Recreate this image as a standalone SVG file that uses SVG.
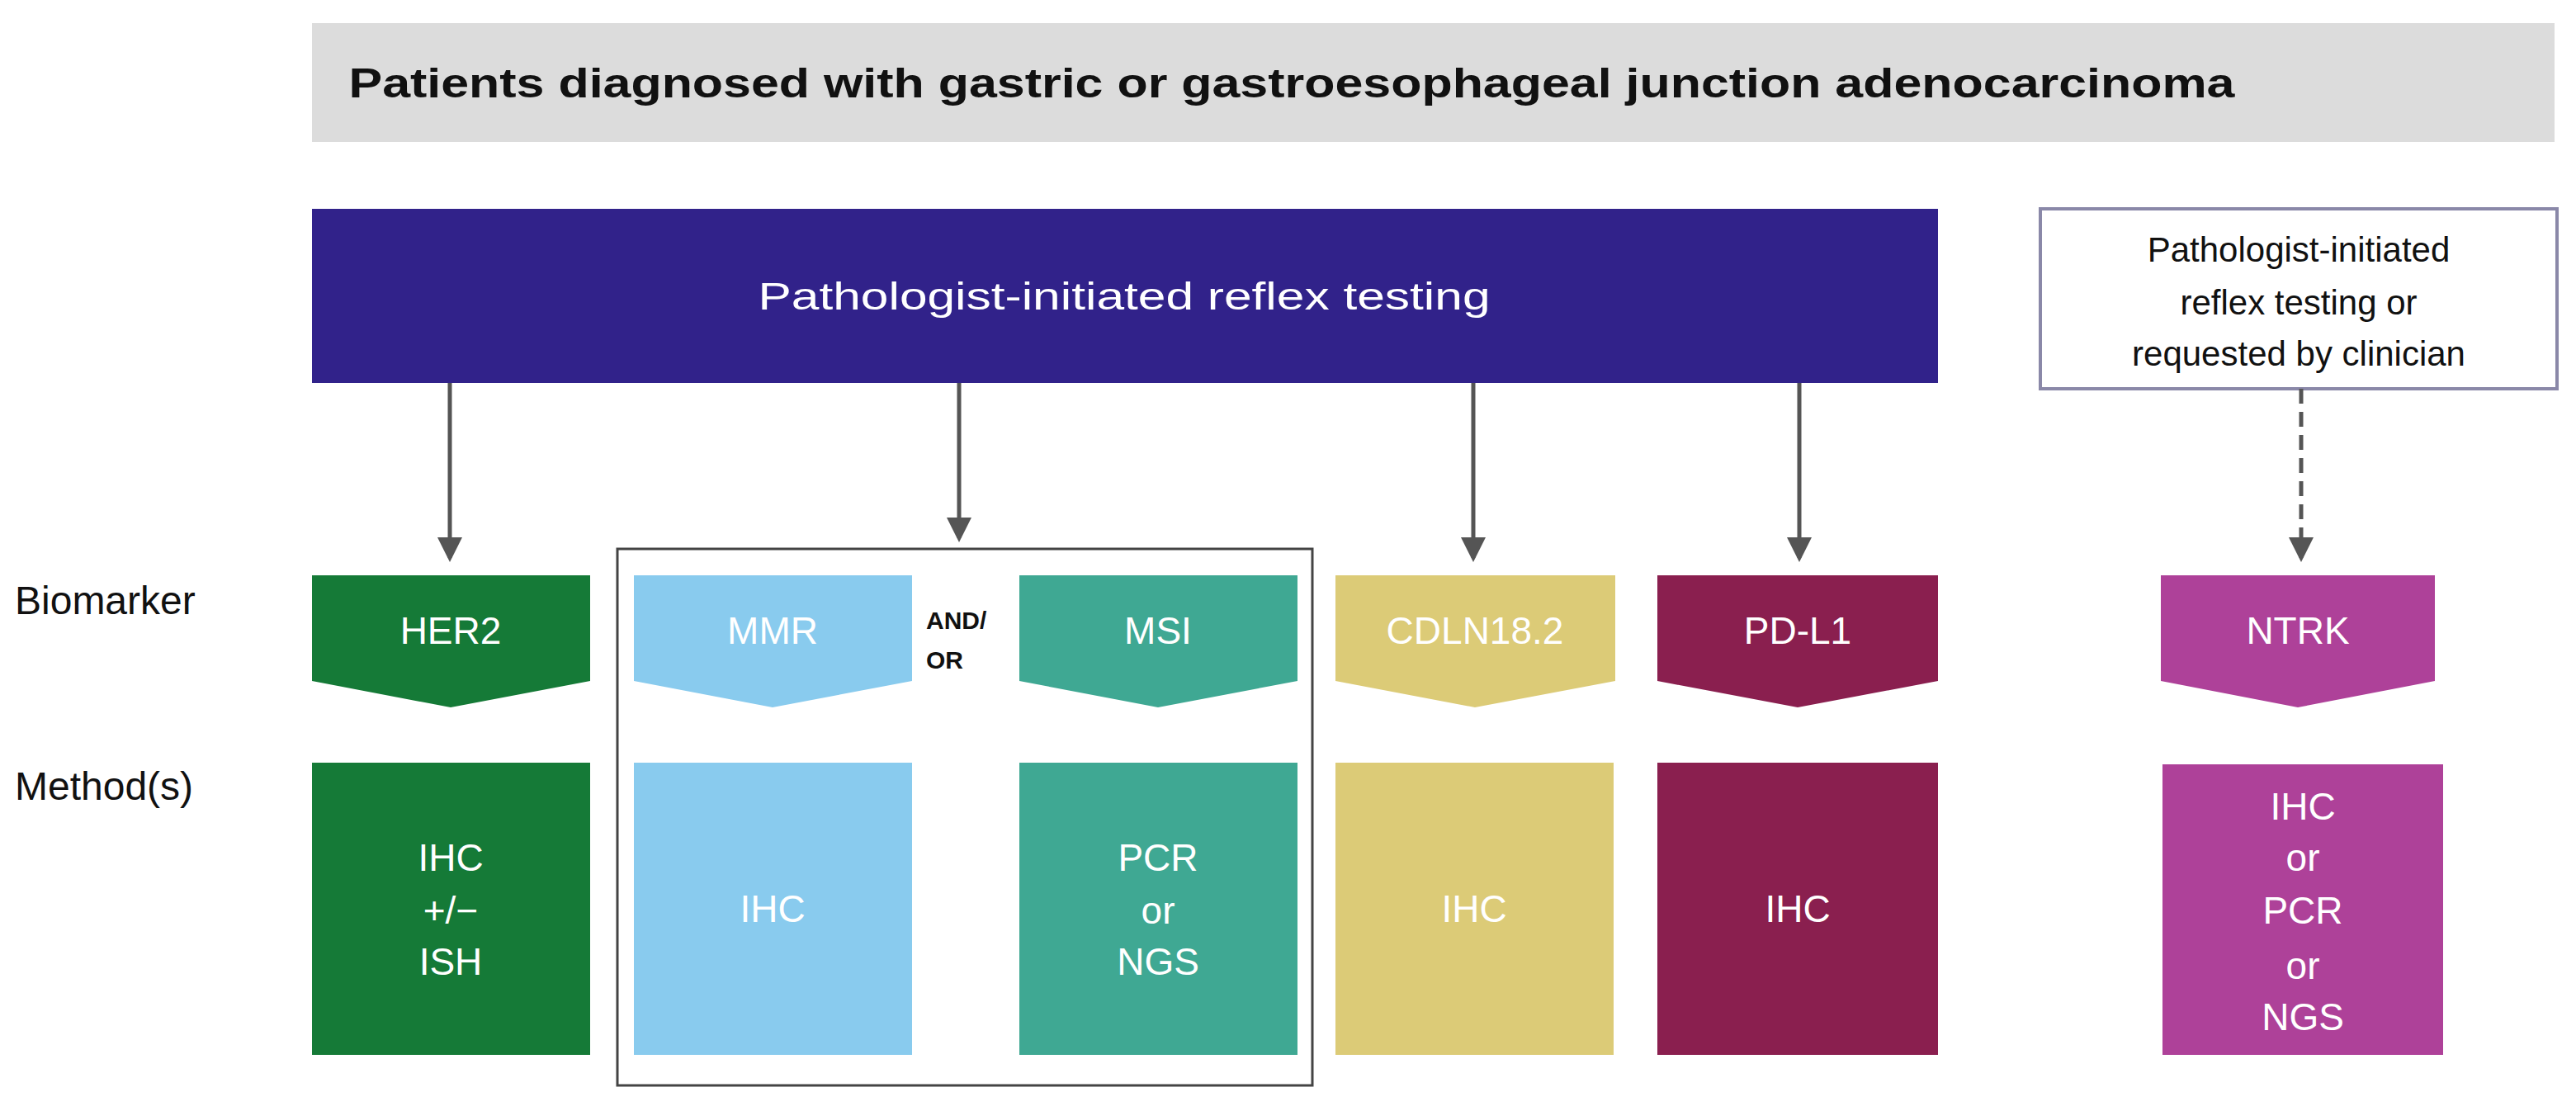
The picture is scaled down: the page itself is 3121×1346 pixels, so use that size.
<svg xmlns="http://www.w3.org/2000/svg" width="3121" height="1346" viewBox="0 0 3121 1346">
<style>
text{font-family:"Liberation Sans",Arial,sans-serif}
.w{fill:#fff;font-size:46px;text-anchor:middle}
.lbl{fill:#111;font-size:48px}
.conn{stroke:#555;stroke-width:5;fill:none}
</style>
<defs>
<marker id="ah" markerWidth="6" markerHeight="6" refX="5" refY="3" orient="auto" markerUnits="strokeWidth"><path d="M0,0 L6,3 L0,6 Z" fill="#555"/></marker>
</defs>
<rect width="3121" height="1346" fill="#fff"/>
<g id="title"><rect x="378" y="28" width="2717" height="144" fill="#dcdcdc"/>
<text x="1565" y="118" font-size="50" font-weight="bold" text-anchor="middle" fill="#111" textLength="2285" lengthAdjust="spacingAndGlyphs">Patients diagnosed with gastric or gastroesophageal junction adenocarcinoma</text></g>
<g id="reflex"><rect x="378" y="253" width="1970" height="211" fill="#31228a"/>
<text x="1362" y="375" class="w" font-size="48" textLength="887" lengthAdjust="spacingAndGlyphs">Pathologist-initiated reflex testing</text></g>
<g id="clinician"><rect x="2472" y="253" width="626" height="218" fill="#fff" stroke="#8a88a8" stroke-width="4"/>
<text x="2785" y="317" font-size="42" text-anchor="middle" fill="#111">Pathologist-initiated</text>
<text x="2785" y="381" font-size="42" text-anchor="middle" fill="#111">reflex testing or</text>
<text x="2785" y="443" font-size="42" text-anchor="middle" fill="#111">requested by clinician</text></g>
<g id="group-box"><rect x="748" y="665" width="842" height="650" fill="none" stroke="#444" stroke-width="3"/></g>
<g id="labels"><text x="18" y="744" class="lbl">Biomarker</text><text x="18" y="969" class="lbl">Method(s)</text></g>
<g id="and-or"><text x="1122" y="762" font-size="30" font-weight="bold" fill="#111">AND/</text><text x="1122" y="810" font-size="30" font-weight="bold" fill="#111">OR</text></g>
<g id="her2"><path d="M378,697 H715 V825 L546,857 L378,825 Z" fill="#157a37"/><text x="546" y="780" class="w">HER2</text>
<rect x="378" y="924" width="337" height="354" fill="#157a37"/><text x="546" y="1055" class="w">IHC</text><text x="546" y="1119" class="w">+/−</text><text x="546" y="1181" class="w">ISH</text></g>
<g id="mmr"><path d="M768,697 H1105 V825 L936,857 L768,825 Z" fill="#89cbee"/><text x="936" y="780" class="w">MMR</text>
<rect x="768" y="924" width="337" height="354" fill="#89cbee"/><text x="936" y="1117" class="w">IHC</text></g>
<g id="msi"><path d="M1235,697 H1572 V825 L1403,857 L1235,825 Z" fill="#3fa893"/><text x="1403" y="780" class="w">MSI</text>
<rect x="1235" y="924" width="337" height="354" fill="#3fa893"/><text x="1403" y="1055" class="w">PCR</text><text x="1403" y="1119" class="w">or</text><text x="1403" y="1181" class="w">NGS</text></g>
<g id="cdln"><path d="M1618,697 H1957 V825 L1787,857 L1618,825 Z" fill="#dccb77"/><text x="1787" y="780" class="w">CDLN18.2</text>
<rect x="1618" y="924" width="337" height="354" fill="#dccb77"/><text x="1786" y="1117" class="w">IHC</text></g>
<g id="pdl1"><path d="M2008,697 H2348 V825 L2178,857 L2008,825 Z" fill="#8a1f4f"/><text x="2178" y="780" class="w">PD-L1</text>
<rect x="2008" y="924" width="340" height="354" fill="#8a1f4f"/><text x="2178" y="1117" class="w">IHC</text></g>
<g id="ntrk"><path d="M2618,697 H2950 V825 L2784,857 L2618,825 Z" fill="#ae4199"/><text x="2784" y="780" class="w">NTRK</text>
<rect x="2620" y="926" width="340" height="352" fill="#ae4199"/><text x="2790" y="993" class="w">IHC</text><text x="2790" y="1055" class="w">or</text><text x="2790" y="1119" class="w">PCR</text><text x="2790" y="1186" class="w">or</text><text x="2790" y="1248" class="w">NGS</text></g>
<g id="connectors">
<line class="conn" x1="545" y1="464" x2="545" y2="676" marker-end="url(#ah)"/>
<line class="conn" x1="1162" y1="464" x2="1162" y2="652" marker-end="url(#ah)"/>
<line class="conn" x1="1785" y1="464" x2="1785" y2="676" marker-end="url(#ah)"/>
<line class="conn" x1="2180" y1="464" x2="2180" y2="676" marker-end="url(#ah)"/>
<line class="conn" x1="2788" y1="471" x2="2788" y2="676" stroke-dasharray="18,10" marker-end="url(#ah)"/>
</g>
</svg>
